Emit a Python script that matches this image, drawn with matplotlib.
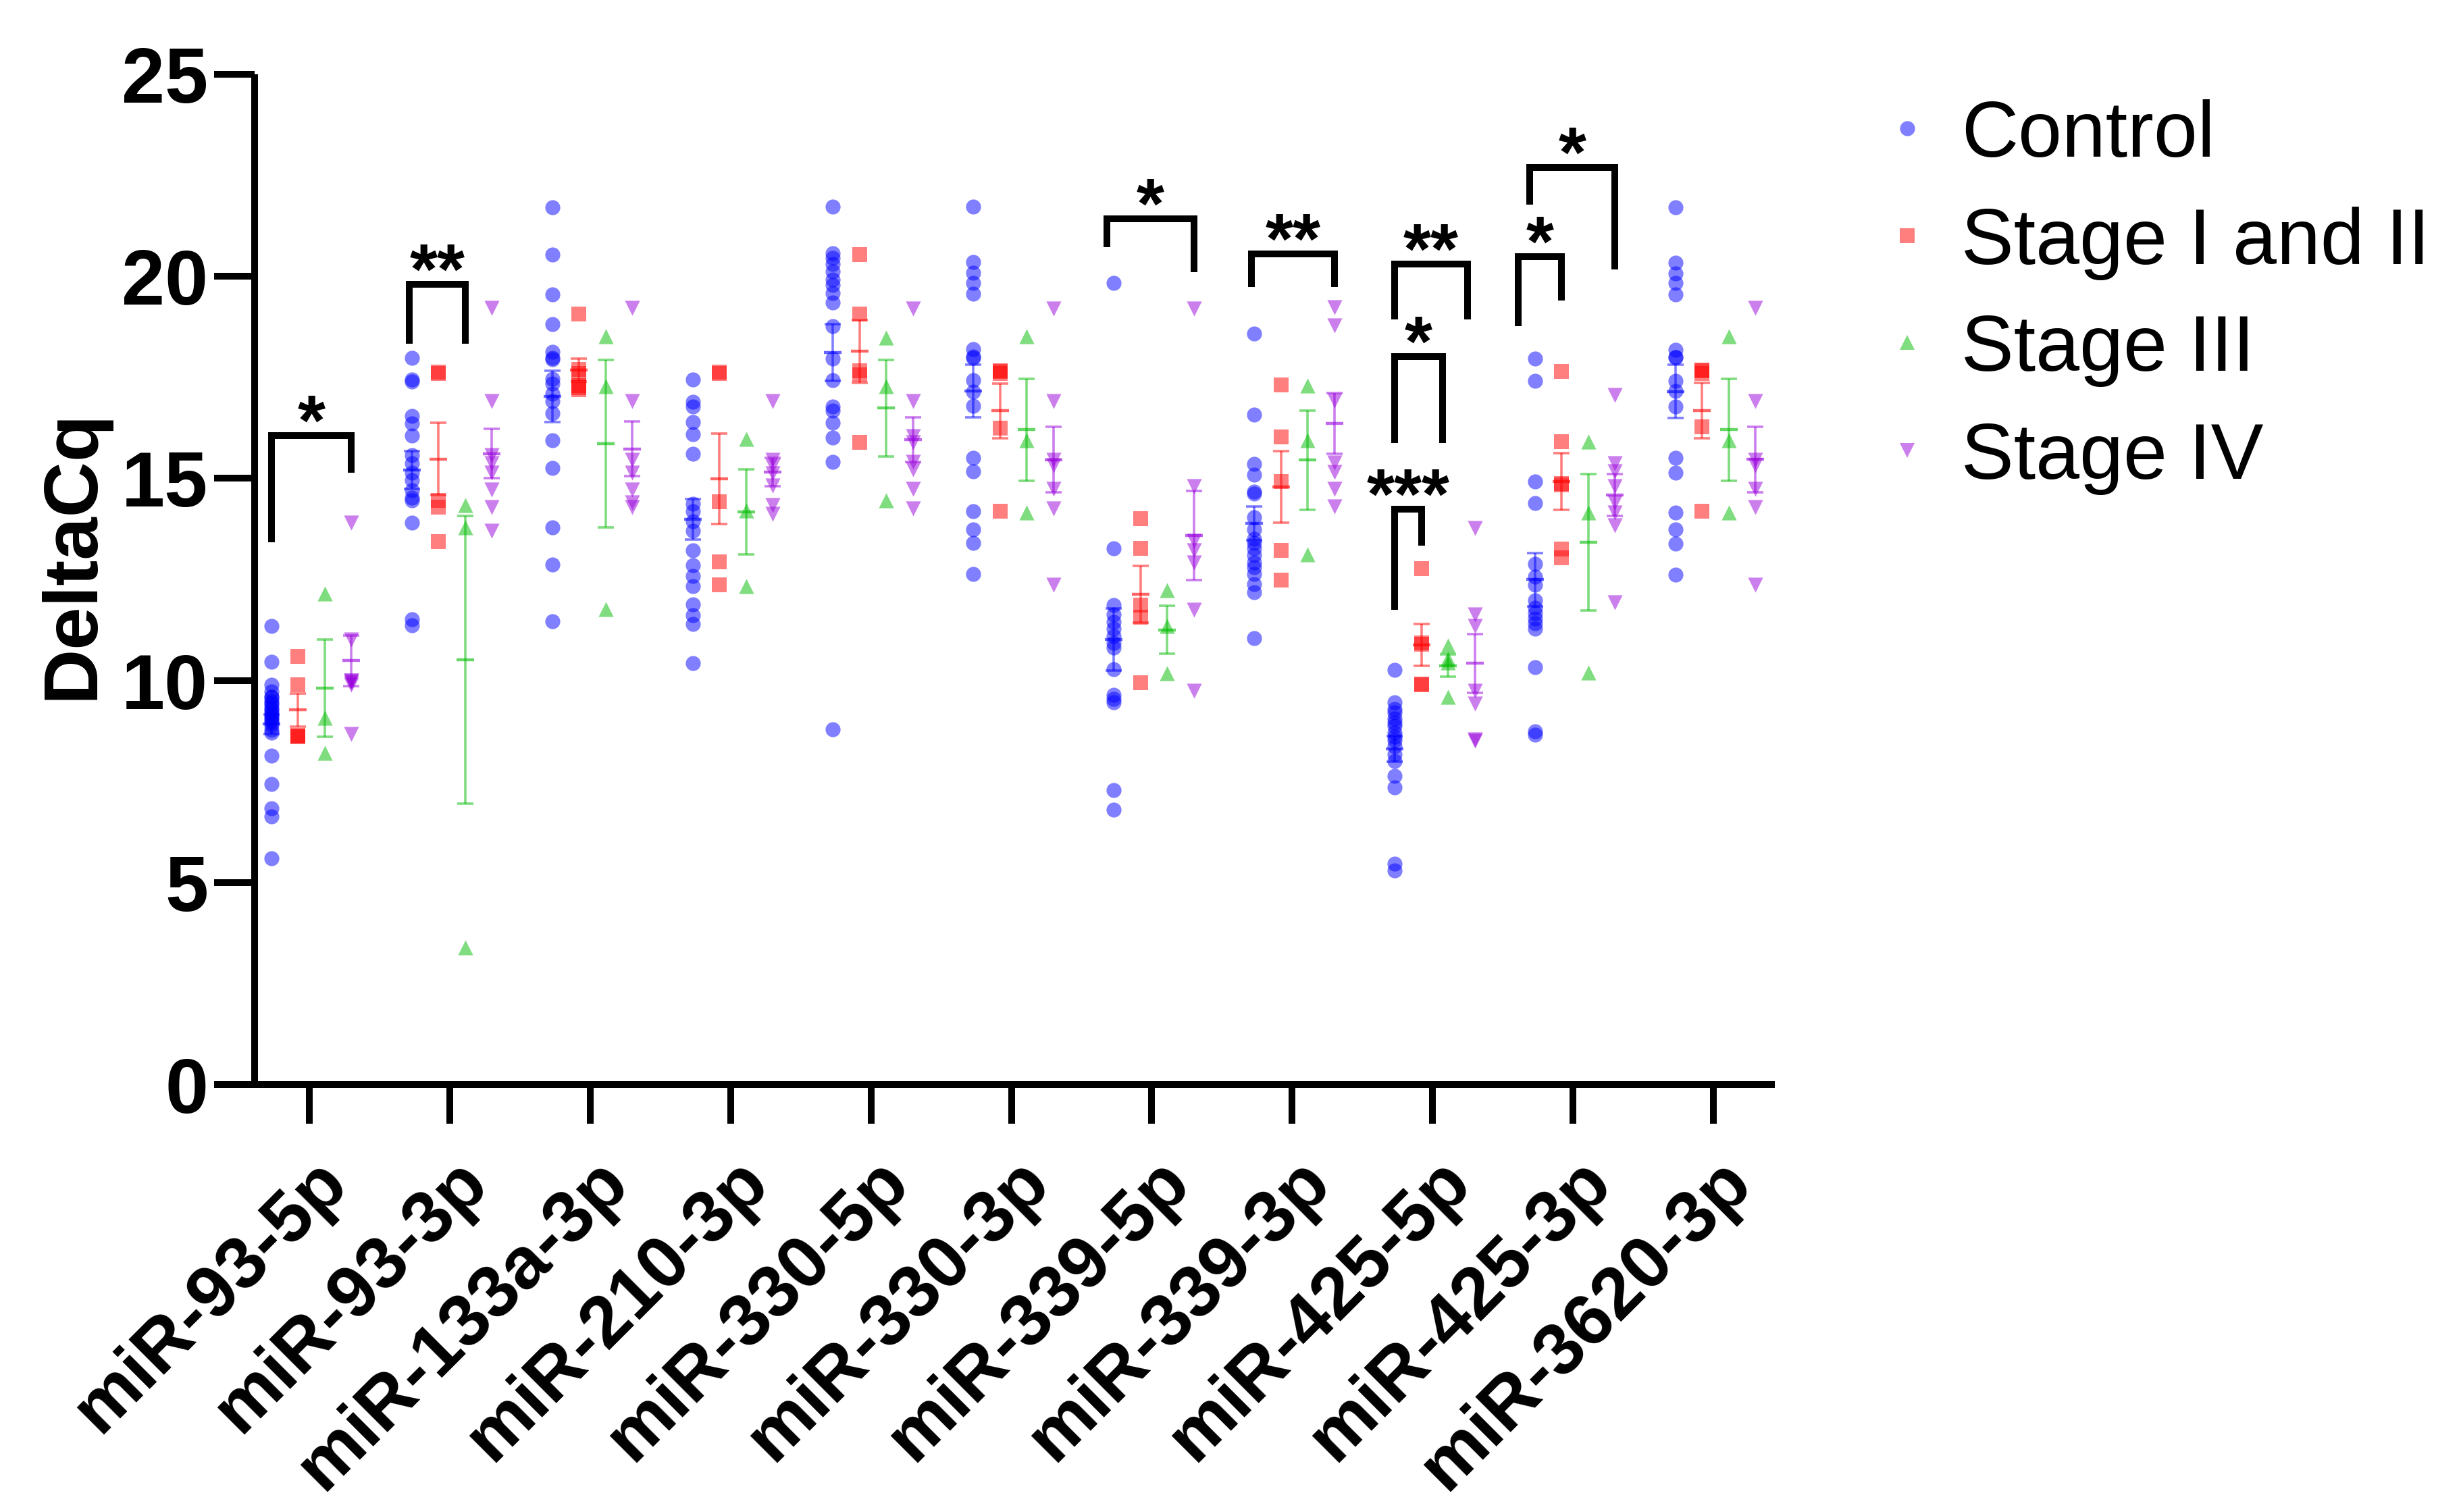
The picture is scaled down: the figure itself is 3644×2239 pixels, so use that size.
import numpy as np
import matplotlib
matplotlib.use('Agg')
import matplotlib.pyplot as plt
from matplotlib.lines import Line2D
import matplotlib.transforms as mtransforms

plt.rcParams['font.family'] = ['Liberation Sans', 'DejaVu Sans']

# ---------------- data ----------------
mirnas = ['miR-93-5p', 'miR-93-3p', 'miR-133a-3p', 'miR-210-3p', 'miR-330-5p',
          'miR-330-3p', 'miR-339-5p', 'miR-339-3p', 'miR-425-5p', 'miR-425-3p',
          'miR-3620-3p']
group_names = ['Control', 'Stage I and II', 'Stage III', 'Stage IV']

control = [
    [11.35, 10.46, 9.89, 9.73, 9.6, 9.59, 9.5, 9.45, 9.39, 9.3, 9.28, 9.2, 9.15, 9.11,
     9.05, 9.0, 8.95, 8.89, 8.78, 8.7, 8.14, 7.43, 6.83, 6.63, 5.59],
    [17.98, 17.45, 17.4, 16.55, 16.36, 16.06, 15.57, 15.38, 15.14, 14.95, 14.71, 14.52,
     14.46, 13.91, 11.52, 11.37],
    [21.70, 20.54, 19.55, 18.82, 18.14, 17.98, 17.94, 17.47, 17.35, 17.10, 16.92, 16.61,
     15.94, 15.26, 13.79, 12.87, 11.46],
    [17.44, 16.90, 16.77, 16.39, 16.10, 15.61, 14.38, 14.19, 13.93, 13.71, 13.22, 12.85,
     12.59, 12.33, 11.88, 11.62, 11.39, 10.42],
    [21.72, 20.57, 20.45, 20.31, 20.12, 19.92, 19.78, 19.59, 19.35, 18.77, 17.97, 17.43,
     16.78, 16.67, 16.37, 16.01, 15.41, 8.79],
    [21.72, 20.36, 20.09, 19.83, 19.57, 18.20, 18.02, 17.98, 17.43, 17.14, 16.80, 15.51,
     15.17, 14.18, 13.73, 13.40, 12.63],
    [19.84, 13.27, 11.87, 11.63, 11.45, 11.28, 11.10, 10.93, 10.81, 10.28, 9.64, 9.55,
     9.46, 7.29, 6.80],
    [18.58, 16.58, 15.36, 15.09, 14.68, 14.62, 14.04, 13.74, 13.51, 13.4, 13.27, 13.10,
     12.92, 12.8, 12.63, 12.39, 12.18, 11.05],
    [10.26, 9.46, 9.29, 9.2, 9.05, 8.95, 8.87, 8.70, 8.6, 8.52, 8.37, 8.17, 8.0, 7.64,
     7.35, 5.47, 5.30],
    [17.97, 17.42, 14.93, 14.39, 12.88, 12.56, 12.36, 11.98, 11.79, 11.66, 11.53, 11.41,
     11.28, 10.32, 8.74, 8.65],
    [21.71, 20.33, 20.07, 19.83, 19.56, 18.19, 18.0, 18.0, 17.42, 17.16, 16.78, 15.50,
     15.14, 14.16, 13.73, 13.39, 12.62],
]
stage_1_2 = [
    [10.59, 9.89, 8.64, 8.62, 8.6],
    [17.63, 17.6, 14.46, 14.28, 13.44],
    [19.06, 17.7, 17.6, 17.3, 17.25, 17.2],
    [17.63, 17.6, 14.42, 12.93, 12.37],
    [20.53, 19.06, 17.67, 17.57, 15.89],
    [17.67, 17.65, 17.6, 16.25, 14.18],
    [14.0, 13.27, 11.87, 11.57, 9.95],
    [17.31, 16.03, 14.92, 13.22, 12.48],
    [12.77, 10.93, 10.9, 9.91, 9.9],
    [17.65, 15.91, 14.88, 14.84, 13.26, 13.04],
    [17.68, 17.66, 17.6, 16.27, 14.18],
]
stage_3 = [
    [12.15, 9.08, 8.2],
    [14.34, 13.79, 3.39],
    [18.51, 17.28, 11.77],
    [15.97, 14.2, 12.33],
    [18.48, 17.28, 14.45],
    [18.51, 15.94, 14.16],
    [12.24, 11.35, 10.17],
    [17.30, 15.94, 13.12],
    [10.87, 10.55, 10.45, 9.6],
    [15.91, 14.16, 10.19],
    [18.51, 15.95, 14.16],
]
stage_4 = [
    [13.91, 11.02, 10.0, 10.0, 9.95, 9.9, 8.67],
    [19.21, 16.92, 15.57, 15.38, 15.14, 14.73, 14.28, 13.70],
    [19.21, 16.92, 15.45, 15.14, 14.73, 14.40, 14.28],
    [16.92, 15.46, 15.31, 15.13, 14.83, 14.34, 14.12],
    [19.20, 16.92, 16.04, 15.89, 15.41, 15.22, 14.74, 14.26],
    [19.20, 16.92, 15.46, 15.32, 14.74, 14.26, 12.36],
    [19.20, 14.80, 13.45, 13.22, 12.92, 11.75, 9.75],
    [19.23, 18.79, 16.93, 15.39, 15.15, 14.74, 14.31],
    [13.77, 11.63, 11.34, 9.75, 9.43, 8.54, 8.5],
    [17.06, 15.37, 15.18, 14.80, 14.41, 14.16, 13.84, 11.94],
    [19.21, 16.91, 15.46, 15.32, 14.74, 14.28, 12.36],
]
series = [control, stage_1_2, stage_3, stage_4]

# significance brackets: miRNA index, compared group, leg bottoms, top, label
sig_mirna = [0, 1, 6, 7, 8, 8, 8, 9, 9]
sig_target = [3, 2, 3, 3, 1, 2, 3, 1, 3]
sig_left_bottom = [13.42, 18.33, 20.72, 19.73, 11.75, 15.88, 18.93, 18.76, 21.77]
sig_right_bottom = [15.14, 18.33, 20.10, 19.73, 13.33, 15.88, 18.93, 19.40, 20.17]
sig_top = [16.06, 19.80, 21.43, 20.55, 14.24, 18.02, 20.31, 20.49, 22.69]
sig_text = ['*', '**', '*', '**', '***', '*', '**', '*', '*']

# ---------------- style ----------------
W, H = 3644, 2239
DPI = 100
offsets = [-0.27, -0.08, 0.11, 0.30]
colors = ['#0000FF', '#FF0000', '#00BB00', '#9900DD']
markers = ['o', 's', '^', 'v']
ALPHA = 0.5
MS = 16
LW = 7.2
leg_left_dx = [0, -0.02, -0.05, -0.02, 0, 0, 0, -0.12, -0.04]
leg_right_dx = [0, 0, 0, 0, 0, -0.04, -0.05, 0, 0]

fig = plt.figure(figsize=(W / DPI, H / DPI), dpi=DPI)
ax_l, ax_r, ax_t, ax_b = 377, 2628, 110, 1606
ax = fig.add_axes([ax_l / W, 1 - ax_b / H, (ax_r - ax_l) / W, (ax_b - ax_t) / H])

for si, ser in enumerate(series):
    for gi, vals in enumerate(ser):
        x = gi + offsets[si]
        v = np.asarray(vals, dtype=float)
        ax.scatter(np.full(v.size, x), v, s=MS ** 2, marker=markers[si],
                   color=colors[si], alpha=ALPHA, linewidths=0, zorder=3)
        m = v.mean()
        sem = v.std(ddof=1) / np.sqrt(v.size)
        ax.errorbar(x, m, yerr=sem, fmt='none', ecolor=colors[si], alpha=ALPHA,
                    elinewidth=2.6, capsize=8.5, capthick=2.6, zorder=4)
        ax.plot([x], [m], marker='_', ms=19, mew=3.2, color=colors[si],
                alpha=ALPHA + 0.1, linestyle='none', zorder=4)

# brackets
for k in range(len(sig_mirna)):
    g = sig_mirna[k]
    xl = g + offsets[0] + leg_left_dx[k]
    xr = g + offsets[sig_target[k]] + leg_right_dx[k]
    yt = sig_top[k]
    ax.plot([xl, xl, xr, xr], [sig_left_bottom[k], yt, yt, sig_right_bottom[k]],
            color='black', lw=LW, solid_joinstyle='miter', solid_capstyle='butt',
            zorder=5, clip_on=False)
    ax.text((xl + xr) / 2, yt - 0.23, sig_text[k], ha='center', va='baseline',
            fontsize=76, fontweight='bold', zorder=6)

# axes
ax.set_xlim(-0.39, 10.438)
ax.set_ylim(0, 25)
ax.set_yticks([0, 5, 10, 15, 20, 25])
ax.set_xticks(np.arange(len(mirnas)))
for sp in ['top', 'right']:
    ax.spines[sp].set_visible(False)
for sp in ['left', 'bottom']:
    ax.spines[sp].set_linewidth(LW)
    ax.spines[sp].set_capstyle('butt')
ax.tick_params(axis='y', length=43, width=LW, pad=6.5, labelsize=83)
ax.tick_params(axis='x', length=42, width=LW, pad=50, labelsize=78)
for lab in ax.get_yticklabels():
    lab.set_fontweight('bold')
ax.set_xticklabels(mirnas, rotation=45, ha='right', va='center',
                   rotation_mode='anchor', fontweight='bold')
shift = mtransforms.ScaledTranslation(40 / DPI, 0, fig.dpi_scale_trans)
for lab in ax.get_xticklabels():
    lab.set_transform(lab.get_transform() + shift)

fig.text(108 / W, 1 - 821 / H, 'DeltaCq', rotation=90, ha='center', va='center',
         fontsize=82, fontweight='bold')

# legend (manual)
leg_y = [190, 349, 507, 667]
fs_leg = 84
for i, name in enumerate(group_names):
    yf = 1 - leg_y[i] / H
    fig.add_artist(Line2D([2824 / W], [yf], marker=markers[i], color=colors[i],
                          alpha=ALPHA, markersize=MS, markeredgewidth=0,
                          linestyle='none', transform=fig.transFigure))
    base_px = leg_y[i] + 0.358 * fs_leg * DPI / 72
    fig.text(2904 / W, 1 - base_px / H, name, ha='left', va='baseline', fontsize=fs_leg)

fig.savefig('out.png', dpi=DPI)
